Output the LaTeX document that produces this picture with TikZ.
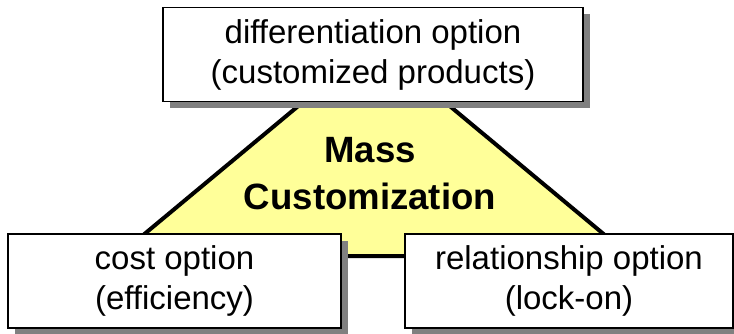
\documentclass[tikz,border=0pt]{standalone}
\usepackage{fontspec}
\setmainfont{Liberation Sans}
\usetikzlibrary{shadows}
\definecolor{mcyellow}{RGB}{255,255,153}
\definecolor{mcshadow}{RGB}{128,128,128}
\tikzset{
  optbox/.style={rectangle, draw=black, line width=1.5pt, fill=white,
                 inner sep=0pt, minimum height=94pt, align=center,
                 font=\fontsize{33pt}{40pt}\selectfont,
                 drop shadow={shadow xshift=7pt, shadow yshift=-7pt,
                              fill=mcshadow, opacity=1}},
  core/.style={draw=black, line width=4pt, fill=mcyellow, line join=miter},
  corelbl/.style={align=center, font=\fontsize{36.6pt}{47pt}\selectfont\bfseries},
}

\begin{document}
\begin{tikzpicture}[x=1pt, y=-1pt]
\useasboundingbox (0,0) rectangle (734,334);

% ============================ core triangle ============================
\coordinate (apex) at (374,43);
\coordinate (bl) at (118,256);
\coordinate (br) at (630,256);
\draw[core] (apex) -- (bl) -- (br) -- cycle;
\node[corelbl] (mc) at (370,174) {Mass\\Customization};

% ============================ option boxes =============================
\foreach \nm/\px/\py/\w/\txt in {%
  diff/373/54.5/420/{differentiation option\\(customized products)},%
  cost/174.5/281/333/{cost option\\(efficiency)},%
  rel/569/281/328/{relationship option\\(lock-on)}%
}
{
  \node[optbox, minimum width=\w pt] (\nm) at (\px,\py) {\txt};
}

\end{tikzpicture}
\end{document}
